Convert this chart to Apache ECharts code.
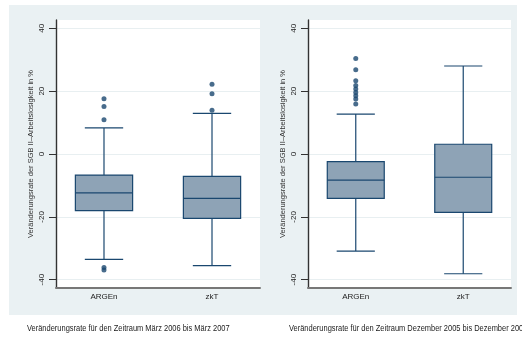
<!DOCTYPE html>
<html><head><meta charset="utf-8">
<script src="https://cdn.jsdelivr.net/npm/echarts@6/dist/echarts.min.js"></script>
<style>html,body{margin:0;padding:0;background:#fff}#c{width:522px;height:338px}</style>
</head><body><div id="c"></div><script>
const categories = ['ARGEn', 'zkT'];
const yTicks = [-40, -20, 0, 20, 40];
// [lower whisker, Q1, median, Q3, upper whisker]
const leftARGEn = [-33.5, -18.0, -12.4, -6.7, 8.3];
const leftZkT = [-35.5, -20.5, -14.1, -7.1, 12.9];
const rightARGEn = [-30.9, -14.1, -8.3, -2.4, 12.7];
const rightZkT = [-38.1, -18.6, -7.4, 3.1, 28.0];
const leftARGEnOutliers = [17.6, 15.1, 10.9, -36.1, -36.9];
const leftZkTOutliers = [22.2, 19.2, 13.9];
const rightARGEnOutliers = [30.4, 26.8, 23.3, 21.8, 20.7, 19.6, 18.5, 17.5, 15.9];
const rightZkTOutliers = [];
const yTitle = 'Veränderungsrate der SGB II–Arbeitslosigkeit in %';
const captionLeft = 'Veränderungsrate für den Zeitraum März 2006 bis März 2007';
const captionRight = 'Veränderungsrate für den Zeitraum Dezember 2005 bis Dezember 2006';

const NAVY = '#1a476f';
const BOXFILL = '#8ea3b6';
const BG = '#eaf1f3';
const FONT = '"Liberation Sans", sans-serif';

function renderBox(params, api) {
  const x = api.value(0);
  const pLo = api.coord([x, api.value(1)]);
  const pQ1 = api.coord([x, api.value(2)]);
  const pMed = api.coord([x, api.value(3)]);
  const pQ3 = api.coord([x, api.value(4)]);
  const pHi = api.coord([x, api.value(5)]);
  const bw = api.size([1, 0])[0] * 0.53;
  const cw = bw * 0.67;
  const cx = pQ1[0];
  const ls = { stroke: NAVY, lineWidth: 1.2, fill: null };
  return {
    type: 'group',
    children: [
      { type: 'line', shape: { x1: cx, y1: pQ1[1], x2: cx, y2: pLo[1] }, style: ls },
      { type: 'line', shape: { x1: cx, y1: pQ3[1], x2: cx, y2: pHi[1] }, style: ls },
      { type: 'line', shape: { x1: cx - cw / 2, y1: pLo[1], x2: cx + cw / 2, y2: pLo[1] }, style: ls },
      { type: 'line', shape: { x1: cx - cw / 2, y1: pHi[1], x2: cx + cw / 2, y2: pHi[1] }, style: ls },
      { type: 'rect', shape: { x: cx - bw / 2, y: pQ3[1], width: bw, height: pQ1[1] - pQ3[1] },
        style: { fill: BOXFILL, stroke: NAVY, lineWidth: 1.2 } },
      { type: 'line', shape: { x1: cx - bw / 2, y1: pMed[1], x2: cx + bw / 2, y2: pMed[1] }, style: ls }
    ]
  };
}

function xAxisFor(gi) {
  return {
    gridIndex: gi, type: 'value', min: 0.5556, max: 2.4444,
    axisLine: { show: true, onZero: false, lineStyle: { color: '#777', width: 2 } },
    axisTick: { show: false },
    splitLine: { show: false },
    axisLabel: {
      customValues: [1, 2], formatter: v => categories[Math.round(v) - 1],
      fontSize: 8, color: '#222', margin: 5, fontFamily: FONT
    }
  };
}
function yAxisFor(gi) {
  return {
    gridIndex: gi, type: 'value', min: -42.64, max: 42.64,
    name: yTitle, nameLocation: 'middle', nameRotate: 90, nameGap: 21,
    nameTextStyle: { fontSize: 7.5, color: '#333', fontFamily: FONT },
    axisLine: { show: true, onZero: false, lineStyle: { color: '#333', width: 1.4 } },
    axisTick: { show: true, customValues: yTicks, length: 7, lineStyle: { color: '#333' } },
    axisLabel: { customValues: yTicks, rotate: 90, fontSize: 8, color: '#222', margin: 10, fontFamily: FONT },
    splitLine: { show: true, lineStyle: { color: '#e8eff1', width: 1 } }
  };
}

const chart = echarts.init(document.getElementById('c'), null, { renderer: 'canvas' });
chart.setOption({
  animation: false,
  graphic: [
    { type: 'rect', z: -10, shape: { x: 9, y: 5, width: 508, height: 310 }, style: { fill: BG } },
    { type: 'text', x: 27, y: 329, scaleX: 0.83,
      style: { text: captionLeft, fontSize: 9, fill: '#222', fontFamily: FONT, verticalAlign: 'middle', align: 'left' } },
    { type: 'text', x: 289, y: 329, scaleX: 0.83,
      style: { text: captionRight, fontSize: 9, fill: '#222', fontFamily: FONT, verticalAlign: 'middle', align: 'left' } }
  ],
  grid: [
    { left: 56, top: 20, width: 204, height: 268, show: true, backgroundColor: '#fff', borderWidth: 0 },
    { left: 308, top: 20, width: 203, height: 268, show: true, backgroundColor: '#fff', borderWidth: 0 }
  ],
  xAxis: [xAxisFor(0), xAxisFor(1)],
  yAxis: [yAxisFor(0), yAxisFor(1)],
  series: [
    { type: 'custom', xAxisIndex: 0, yAxisIndex: 0, renderItem: renderBox,
      data: [[1].concat(leftARGEn), [2].concat(leftZkT)] },
    { type: 'custom', xAxisIndex: 1, yAxisIndex: 1, renderItem: renderBox,
      data: [[1].concat(rightARGEn), [2].concat(rightZkT)] },
    { type: 'scatter', xAxisIndex: 0, yAxisIndex: 0, symbolSize: 5, itemStyle: { color: NAVY },
      data: leftARGEnOutliers.map(v => [1, v]).concat(leftZkTOutliers.map(v => [2, v])) },
    { type: 'scatter', xAxisIndex: 1, yAxisIndex: 1, symbolSize: 5, itemStyle: { color: NAVY },
      data: rightARGEnOutliers.map(v => [1, v]).concat(rightZkTOutliers.map(v => [2, v])) }
  ]
});
</script></body></html>
